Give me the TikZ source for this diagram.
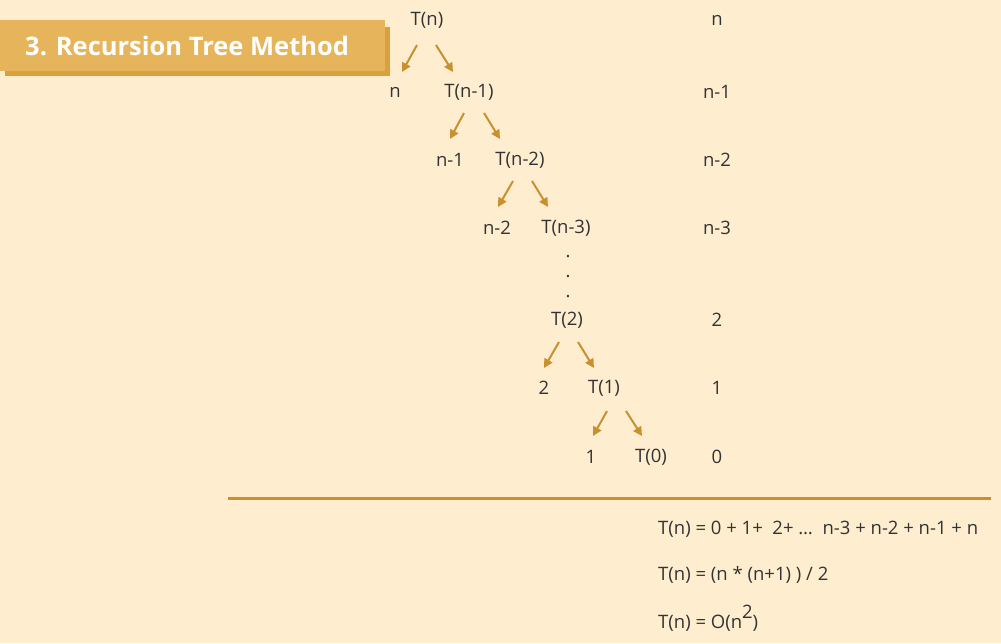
\documentclass[tikz,border=0pt]{standalone}
\usepackage{fontspec}
\setmainfont{Open Sans}
\usetikzlibrary{arrows.meta}
\definecolor{bg}{HTML}{FEEECF}
\definecolor{banner}{HTML}{E6B55B}
\definecolor{bannersh}{HTML}{D9A03C}
\definecolor{arrc}{HTML}{C8902E}
\definecolor{linec}{HTML}{CC8F2A}
\definecolor{txt}{HTML}{333333}
\tikzset{
  lbl/.style={inner sep=0pt, text=txt, font=\fontsize{18.5}{22}\selectfont},
  arr/.style={draw=arrc, line width=2pt, -{Triangle[length=9pt,width=9pt]}},
  eq/.style={lbl, anchor=west}
}
\begin{document}
\begin{tikzpicture}[x=1pt,y=-1pt]
\fill[bg] (0,0) rectangle (1001,643);
\useasboundingbox (0,0) rectangle (1001,643);
% banner
\fill[bannersh] (5,27) rectangle (390,76);
\fill[banner] (0,20) rectangle (385,71);
\node[inner sep=0pt, anchor=west, text=white, font=\fontsize{25.5}{30}\bfseries] (title) at (25,45.5) {3. Recursion Tree Method};
% tree nodes
\node[lbl] (Tn) at (427,20) {T(n)};
\node[lbl] (n0) at (395,92) {n};
\node[lbl] (Tn1) at (469,92) {T(n-1)};
\node[lbl] (n1) at (450,160) {n-1};
\node[lbl] (Tn2) at (520,160) {T(n-2)};
\node[lbl] (n2) at (497,228) {n-2};
\node[lbl] (Tn3) at (566,228) {T(n-3)};
\node[lbl] (d1) at (568,257) {.};
\node[lbl] (d2) at (568,277) {.};
\node[lbl] (d3) at (568,297) {.};
\node[lbl] (T2) at (567,320) {T(2)};
\node[lbl] (c2) at (544,388) {2};
\node[lbl] (T1) at (604,388) {T(1)};
\node[lbl] (c1) at (591,457) {1};
\node[lbl] (T0) at (651,457) {T(0)};
% right column
\node[lbl] (rn) at (717,20) {n};
\node[lbl] (rn1) at (717,92) {n-1};
\node[lbl] (rn2) at (717,160) {n-2};
\node[lbl] (rn3) at (717,228) {n-3};
\node[lbl] (r2) at (717,320) {2};
\node[lbl] (r1) at (717,388) {1};
\node[lbl] (r0) at (717,457) {0};
% arrows
\draw[arr] ([shift={(-10,25)}]Tn.center) -- ([shift={(7,-20)}]n0.center);
\draw[arr] ([shift={(9,25)}]Tn.center) -- ([shift={(-16,-20)}]Tn1.center);
\draw[arr] ([shift={(-5,21)}]Tn1.center) -- ([shift={(0,-21)}]n1.center);
\draw[arr] ([shift={(15,21)}]Tn1.center) -- ([shift={(-20,-21)}]Tn2.center);
\draw[arr] ([shift={(-7,21)}]Tn2.center) -- ([shift={(1,-21)}]n2.center);
\draw[arr] ([shift={(12,21)}]Tn2.center) -- ([shift={(-18,-21)}]Tn3.center);
\draw[arr] ([shift={(-8,22)}]T2.center) -- ([shift={(0,-20)}]c2.center);
\draw[arr] ([shift={(11,22)}]T2.center) -- ([shift={(-10,-20)}]T1.center);
\draw[arr] ([shift={(3,23)}]T1.center) -- ([shift={(2,-21)}]c1.center);
\draw[arr] ([shift={(22,23)}]T1.center) -- ([shift={(-9,-21)}]T0.center);
% separator
\coordinate (lineL) at (228,498);
\coordinate (lineR) at (991,498);
\draw[linec, line width=3pt] (lineL) -- (lineR);
% equations
\node[eq] (e1) at (658,529) {T(n) = 0 + 1+ \ 2+ … \ n-3 + n-2 + n-1 + n};
\node[eq] (e2) at (658,575) {T(n) = (n * (n+1) ) / 2};
\node[eq] (e3) at (658,618) {T(n) = O(n\raisebox{0.55em}{\fontsize{18.5}{22}\selectfont 2})};
\end{tikzpicture}
\end{document}
